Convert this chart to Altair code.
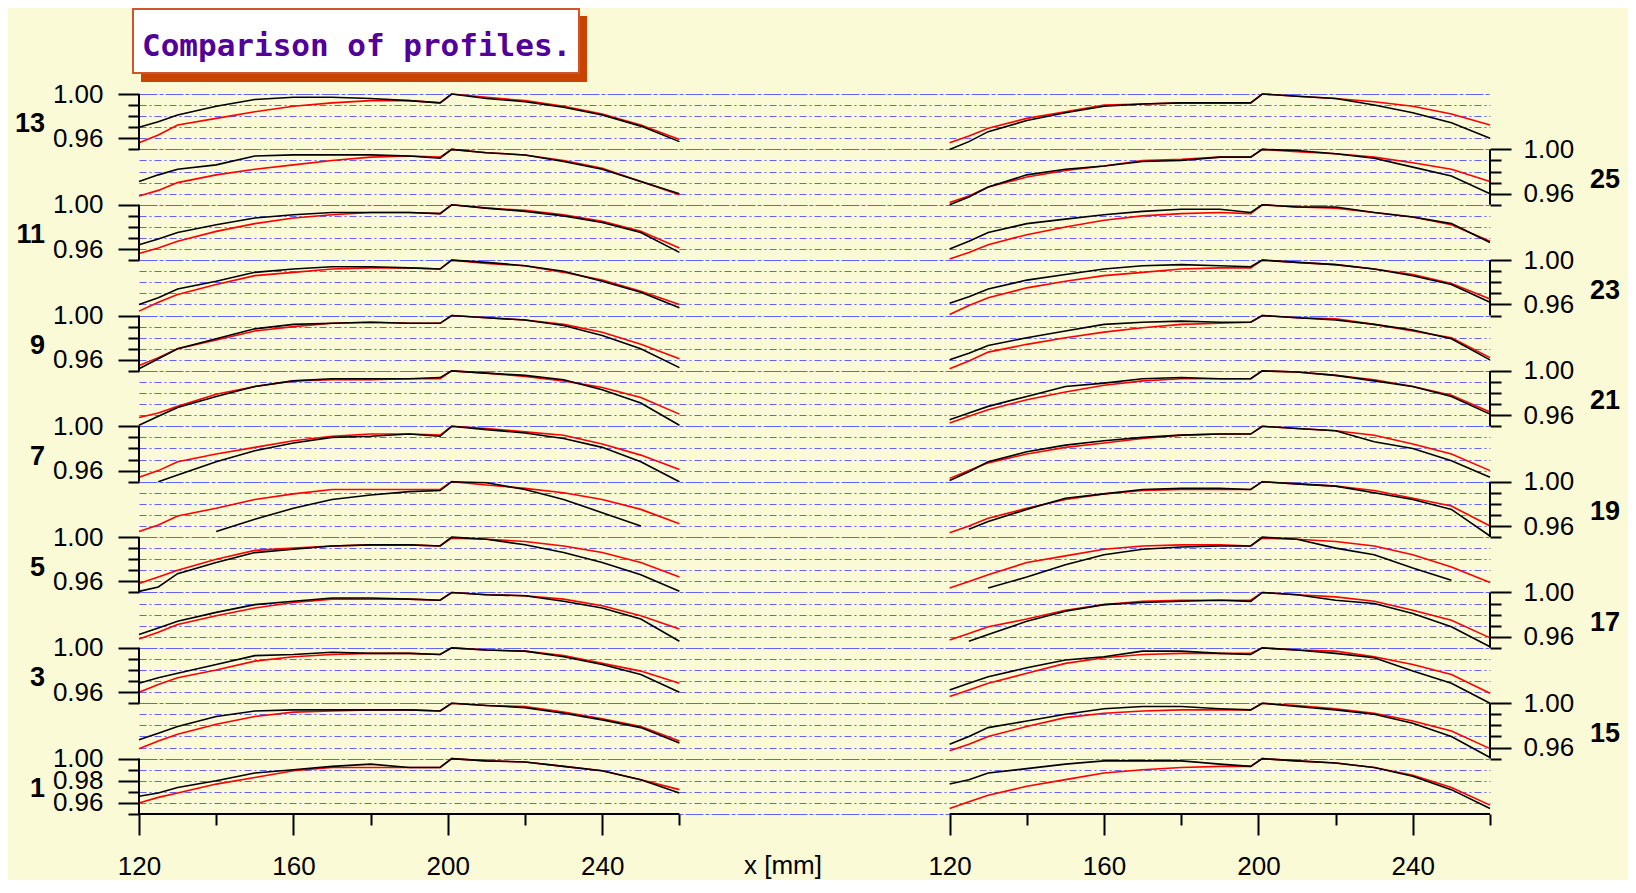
import altair as alt
import pandas as pd

# ---------------- data ----------------
GRID_X = [120, 125, 130, 140, 150, 160, 170, 180, 190, 198, 201, 210, 220, 230, 240, 250, 260]
RIGHT_SHIFT = 210          # x offset of the right-hand column (axis break)
LEVEL_STEP = 0.05          # vertical offset between stacked profiles
N = None

R01 = [0.960,0.965,0.969,0.977,0.983,0.989,0.992,0.992,0.992,0.992,1.000,0.998,0.997,0.993,0.989,0.981,0.972]
B01 = [0.966,0.969,0.974,0.980,0.987,0.990,0.993,0.995,0.992,0.992,1.000,0.998,0.997,0.993,0.989,0.981,0.969]
R02 = [0.959,0.966,0.972,0.981,0.988,0.992,0.993,0.994,0.994,0.993,1.000,0.998,0.997,0.992,0.986,0.979,0.966]
B02 = [0.967,0.973,0.979,0.988,0.993,0.994,0.994,0.994,0.994,0.993,1.000,0.998,0.996,0.991,0.985,0.978,0.964]
R03 = [0.960,0.967,0.973,0.980,0.988,0.992,0.994,0.995,0.995,0.994,1.000,0.998,0.997,0.993,0.986,0.979,0.968]
B03 = [0.968,0.973,0.977,0.985,0.993,0.994,0.996,0.995,0.995,0.994,1.000,0.998,0.997,0.992,0.985,0.976,0.960]
R04 = [0.958,0.964,0.971,0.979,0.986,0.991,0.994,0.994,0.994,0.993,1.000,0.998,0.997,0.994,0.988,0.979,0.967]
B04 = [0.962,0.968,0.974,0.982,0.989,0.992,0.995,0.995,0.994,0.993,1.000,0.998,0.997,0.992,0.986,0.976,0.956]
R05 = [0.958,0.964,0.970,0.980,0.988,0.990,0.992,0.993,0.993,0.992,0.999,0.998,0.996,0.992,0.986,0.977,0.964]
B05 = [0.951,0.955,0.967,0.977,0.986,0.989,0.992,0.993,0.993,0.992,1.000,0.998,0.993,0.986,0.977,0.966,0.951]
R06 = [0.955,0.961,0.969,0.976,0.984,0.989,0.993,0.993,0.993,0.993,1.000,0.997,0.994,0.990,0.984,0.975,0.962]
B06 = [N,N,N,0.955,0.966,0.976,0.984,0.988,0.991,0.992,1.000,0.999,0.993,0.984,0.972,0.960,N]
R07 = [0.954,0.960,0.968,0.975,0.981,0.987,0.991,0.993,0.993,0.992,1.000,0.998,0.995,0.992,0.984,0.974,0.961]
B07 = [N,0.950,0.956,0.968,0.978,0.985,0.990,0.991,0.993,0.991,1.000,0.997,0.994,0.989,0.981,0.968,0.950]
R08 = [0.958,0.962,0.968,0.979,0.986,0.991,0.992,0.992,0.993,0.993,1.000,0.998,0.995,0.991,0.985,0.976,0.961]
B08 = [0.951,0.959,0.967,0.977,0.986,0.991,0.993,0.993,0.993,0.994,1.000,0.998,0.996,0.992,0.983,0.971,0.951]
R09 = [0.955,0.962,0.970,0.978,0.986,0.990,0.993,0.994,0.993,0.993,1.000,0.998,0.996,0.992,0.985,0.974,0.961]
B09 = [0.952,0.961,0.970,0.979,0.988,0.992,0.993,0.994,0.993,0.993,1.000,0.998,0.996,0.991,0.982,0.970,0.953]
R10 = [0.954,0.962,0.969,0.978,0.986,0.989,0.992,0.993,0.993,0.992,1.000,0.997,0.995,0.989,0.982,0.972,0.960]
B10 = [0.960,0.966,0.974,0.981,0.989,0.992,0.994,0.994,0.993,0.992,1.000,0.998,0.995,0.990,0.981,0.971,0.957]
R11 = [0.956,0.961,0.967,0.976,0.983,0.988,0.991,0.993,0.993,0.992,1.000,0.997,0.995,0.991,0.985,0.976,0.961]
B11 = [0.964,0.969,0.975,0.982,0.988,0.991,0.993,0.993,0.993,0.992,1.000,0.997,0.994,0.990,0.984,0.975,0.957]
R12 = [0.958,0.963,0.970,0.977,0.982,0.986,0.990,0.993,0.994,0.993,1.000,0.997,0.995,0.990,0.983,0.971,0.959]
B12 = [0.971,0.977,0.982,0.986,0.994,0.995,0.995,0.995,0.994,0.992,1.000,0.997,0.995,0.989,0.982,0.971,0.960]
R13 = [0.956,0.963,0.972,0.978,0.984,0.989,0.992,0.994,0.994,0.992,1.000,0.997,0.994,0.989,0.982,0.972,0.959]
B13 = [0.970,0.975,0.981,0.989,0.995,0.997,0.997,0.996,0.994,0.992,1.000,0.996,0.993,0.988,0.981,0.971,0.957]
R14 = [0.955,0.961,0.967,0.975,0.981,0.987,0.990,0.992,0.993,0.993,1.000,0.998,0.996,0.992,0.985,0.974,0.958]
B14 = [0.977,0.981,0.987,0.991,0.995,0.998,0.998,0.998,0.995,0.993,1.000,0.998,0.996,0.992,0.984,0.972,0.955]
R15 = [0.957,0.963,0.970,0.979,0.987,0.991,0.993,0.994,0.994,0.994,1.000,0.998,0.995,0.991,0.984,0.975,0.959]
B15 = [0.963,0.970,0.978,0.984,0.990,0.995,0.997,0.997,0.995,0.994,1.000,0.997,0.994,0.990,0.982,0.970,0.951]
R16 = [0.956,0.962,0.968,0.977,0.986,0.991,0.994,0.995,0.995,0.995,1.000,0.998,0.997,0.992,0.985,0.976,0.959]
B16 = [0.962,0.968,0.974,0.982,0.989,0.992,0.997,0.997,0.995,0.994,1.000,0.998,0.995,0.991,0.979,0.968,0.950]
R17 = [0.957,0.963,0.969,0.976,0.984,0.989,0.992,0.993,0.993,0.993,1.000,0.998,0.996,0.992,0.984,0.975,0.959]
B17 = [N,0.956,0.962,0.974,0.983,0.989,0.991,0.992,0.993,0.992,1.000,0.998,0.993,0.990,0.981,0.969,0.951]
R18 = [0.954,0.960,0.966,0.977,0.983,0.989,0.992,0.993,0.993,0.992,0.999,0.998,0.996,0.992,0.984,0.973,0.959]
B18 = [N,N,0.954,0.964,0.975,0.984,0.989,0.991,0.992,0.992,1.000,0.998,0.990,0.984,0.972,0.961,N]
R19 = [0.954,0.960,0.967,0.976,0.984,0.989,0.992,0.993,0.993,0.993,1.000,0.998,0.996,0.992,0.985,0.978,0.960]
B19 = [N,0.957,0.964,0.975,0.985,0.989,0.993,0.994,0.994,0.993,1.000,0.998,0.996,0.990,0.984,0.975,0.951]
R20 = [0.953,0.960,0.967,0.975,0.981,0.985,0.989,0.992,0.993,0.993,1.000,0.998,0.996,0.992,0.984,0.975,0.960]
B20 = [0.951,0.959,0.968,0.977,0.983,0.987,0.990,0.992,0.993,0.993,1.000,0.998,0.996,0.986,0.980,0.969,0.954]
R21 = [0.953,0.959,0.965,0.974,0.981,0.987,0.991,0.993,0.993,0.993,1.000,0.999,0.996,0.992,0.986,0.978,0.963]
B21 = [0.956,0.962,0.968,0.977,0.986,0.989,0.993,0.994,0.993,0.993,1.000,0.999,0.996,0.991,0.986,0.977,0.961]
R22 = [0.952,0.959,0.967,0.974,0.980,0.985,0.989,0.992,0.993,0.994,1.000,0.998,0.997,0.992,0.986,0.980,0.962]
B22 = [0.960,0.966,0.973,0.980,0.986,0.992,0.994,0.995,0.994,0.994,1.000,0.998,0.996,0.992,0.987,0.979,0.960]
R23 = [0.951,0.959,0.966,0.975,0.981,0.986,0.989,0.992,0.993,0.993,1.000,0.998,0.996,0.992,0.987,0.979,0.965]
B23 = [0.961,0.967,0.974,0.982,0.987,0.992,0.995,0.996,0.995,0.994,1.000,0.998,0.996,0.992,0.986,0.978,0.962]
R24 = [0.951,0.957,0.964,0.973,0.980,0.986,0.990,0.992,0.993,0.992,1.000,0.998,0.997,0.993,0.989,0.982,0.967]
B24 = [0.960,0.967,0.975,0.983,0.987,0.991,0.994,0.996,0.996,0.993,1.000,0.998,0.998,0.993,0.989,0.983,0.966]
R25 = [0.952,0.958,0.966,0.975,0.981,0.985,0.990,0.991,0.993,0.993,1.000,0.998,0.996,0.993,0.988,0.982,0.971]
B25 = [0.950,0.957,0.966,0.977,0.982,0.985,0.989,0.990,0.993,0.993,1.000,0.999,0.996,0.992,0.984,0.976,0.960]
R26 = [0.956,0.962,0.969,0.978,0.984,0.990,0.991,0.992,0.992,0.992,1.000,0.998,0.996,0.993,0.989,0.982,0.972]
B26 = [0.950,0.957,0.966,0.976,0.983,0.989,0.991,0.992,0.992,0.992,1.000,0.998,0.996,0.990,0.983,0.974,0.960]

RED = [R01,R02,R03,R04,R05,R06,R07,R08,R09,R10,R11,R12,R13,R14,R15,R16,R17,R18,R19,R20,R21,R22,R23,R24,R25,R26]
BLACK = [B01,B02,B03,B04,B05,B06,B07,B08,B09,B10,B11,B12,B13,B14,B15,B16,B17,B18,B19,B20,B21,B22,B23,B24,B25,B26]

PROFILES = list(range(1, 27))
LEFT_LABELS = [1, 3, 5, 7, 9, 11, 13]
RIGHT_LABELS = [15, 17, 19, 21, 23, 25]
X_TICKS_MM = [120, 140, 160, 180, 200, 220, 240, 260]
LABEL_POS = 0.9725

# ---------------- build tables ----------------
def level_of(p):
    return p - 1 if p <= 13 else p - 14

def shift_of(p):
    return 0 if p <= 13 else RIGHT_SHIFT

def curve_rows(series_list):
    rows = []
    for p, vals in zip(PROFILES, series_list):
        for x, v in zip(GRID_X, vals):
            rows.append({"profile": p, "xc": x + shift_of(p),
                         "Y": (v + LEVEL_STEP * level_of(p)) if v is not None else None})
    return pd.DataFrame(rows)

red_df = curve_rows(RED)
black_df = curve_rows(BLACK)

xaxis_df = pd.DataFrame({"x1": [120, 120 + RIGHT_SHIFT], "x2": [260, 260 + RIGHT_SHIFT], "yb": [0.95, 0.95]})
yaxis_rows = []
for j in range(13):
    xa = 120 if j % 2 == 0 else 260 + RIGHT_SHIFT
    yaxis_rows.append({"xa": xa, "ya": 0.95 + LEVEL_STEP * j, "ya2": 1.00 + LEVEL_STEP * j})
yaxis_df = pd.DataFrame(yaxis_rows)

left_lab_df = pd.DataFrame({"lab": [str(p) for p in LEFT_LABELS],
                            "ly": [LABEL_POS + LEVEL_STEP * level_of(p) for p in LEFT_LABELS]})
right_lab_df = pd.DataFrame({"lab": [str(p) for p in RIGHT_LABELS],
                             "ly": [LABEL_POS + LEVEL_STEP * level_of(p) for p in RIGHT_LABELS]})

Y_TICKS = [round(0.95 + 0.01 * i, 2) for i in range(66)]
X_TICKS = X_TICKS_MM + [v + RIGHT_SHIFT for v in X_TICKS_MM]

# ---------------- styling ----------------
FONT = "Liberation Sans"
BG = "#FAFAD7"
GRID_BLUE = "#5a5aff"
W, H = 1351, 720

xscale = alt.Scale(domain=[120, 260 + RIGHT_SHIFT], nice=False, zero=False)
yscale = alt.Scale(domain=[0.95, 1.60], nice=False, zero=False)

XM = f"round(datum.value > 300 ? datum.value - {RIGHT_SHIFT} : datum.value)"
xaxis = alt.Axis(
    orient="bottom", values=X_TICKS, title=None, grid=False, domain=False,
    labelExpr=f"(({XM}) % 40 == 0) ? ('' + ({XM})) : ''",
    tickColor="black", tickWidth=2,
    tickSize={"condition": {"test": f"({XM}) % 40 == 0", "value": 21}, "value": 11},
    labelFont=FONT, labelFontSize=26, labelColor="black", labelPadding=18,
    labelOverlap=False, labelFlush=False,
)

NN = "round(datum.value*100)"
KK = f"floor(({NN}-95)/5)"
MM = f"(({NN}-95)%5)"
L100 = f"({MM}==0 && {KK}%2==1)"
L096 = f"({MM}==1 && {KK}%2==0)"
L098 = f"({NN}==98)"
LSHOW = f"({MM}==0 || {KK}%2==0)"
R100 = f"({MM}==0 && {KK}%2==0 && {NN}>95 && {NN}<160)"
R096 = f"({MM}==1 && {KK}%2==1)"
RSHOW = f"({MM}==0 ? ({NN}>95 && {NN}<160) : {KK}%2==1)"

left_axis = alt.Axis(
    orient="left", values=Y_TICKS, title=None, domain=False,
    grid=True, gridColor=GRID_BLUE, gridWidth=1, gridOpacity=0.95,
    gridDash={"condition": {"test": f"{MM}==0", "value": [18, 2, 4, 2]}, "value": [7, 3, 2, 3]},
    labelExpr=f"{L100} ? '1.00' : ({L096} ? '0.96' : ({L098} ? '0.98' : ''))",
    tickColor="black", tickWidth=2,
    tickSize={"condition": {"test": f"{L100} || {L096} || {L098}", "value": 21}, "value": 11},
    tickOpacity={"condition": {"test": LSHOW, "value": 1}, "value": 0},
    labelFont=FONT, labelFontSize=26, labelColor="black", labelPadding=15,
    labelOverlap=False, labelFlush=False,
)
right_axis = alt.Axis(
    orient="right", values=Y_TICKS, title=None, domain=False, grid=False,
    labelExpr=f"{R100} ? '1.00' : ({R096} ? '0.96' : '')",
    tickColor="black", tickWidth=2,
    tickSize={"condition": {"test": f"{R100} || {R096}", "value": 21}, "value": 11},
    tickOpacity={"condition": {"test": RSHOW, "value": 1}, "value": 0},
    labelFont=FONT, labelFontSize=26, labelColor="black", labelPadding=12,
    labelOverlap=False, labelFlush=False,
)

# ---------------- layers ----------------
red_layer = alt.Chart(red_df).mark_line(color="#ff0000", strokeWidth=1.6).encode(
    x=alt.X("xc:Q", scale=xscale, axis=xaxis),
    y=alt.Y("Y:Q", scale=yscale, axis=left_axis),
    detail="profile:N",
)
black_layer = alt.Chart(black_df).mark_line(color="#000000", strokeWidth=1.6).encode(
    x=alt.X("xc:Q", scale=xscale, axis=xaxis),
    y=alt.Y("Y:Q", scale=yscale, axis=right_axis),
    detail="profile:N",
)
xaxis_lines = alt.Chart(xaxis_df).mark_rule(color="black", strokeWidth=2).encode(
    x=alt.X("x1:Q", scale=xscale, axis=xaxis),
    x2="x2:Q",
    y=alt.Y("yb:Q", scale=yscale, axis=None),
)
yaxis_lines = alt.Chart(yaxis_df).mark_rule(color="black", strokeWidth=2).encode(
    x=alt.X("xa:Q", scale=xscale, axis=xaxis),
    y=alt.Y("ya:Q", scale=yscale, axis=None),
    y2="ya2:Q",
)
left_nums = alt.Chart(left_lab_df).mark_text(
    font=FONT, fontSize=27, fontWeight="bold", color="black", align="right", baseline="middle"
).encode(x=alt.value(-94), y=alt.Y("ly:Q", scale=yscale, axis=None), text="lab:N")
right_nums = alt.Chart(right_lab_df).mark_text(
    font=FONT, fontSize=27, fontWeight="bold", color="black", align="left", baseline="middle"
).encode(x=alt.value(W + 100), y=alt.Y("ly:Q", scale=yscale, axis=None), text="lab:N")

title_df = pd.DataFrame({"t": ["Comparison of profiles."]})
shadow = alt.Chart(title_df).mark_rect(color="#c84400").encode(
    x=alt.value(2), x2=alt.value(448), y=alt.value(-78), y2=alt.value(-12))
box = alt.Chart(title_df).mark_rect(fill="white", stroke="#d0552a", strokeWidth=2).encode(
    x=alt.value(-6), x2=alt.value(440), y=alt.value(-85), y2=alt.value(-21))
title_txt = alt.Chart(title_df).mark_text(
    font="DejaVu Sans Mono", fontSize=31, fontWeight="bold", color="#52009c",
    align="left", baseline="alphabetic"
).encode(x=alt.value(3), y=alt.value(-38), text="t:N")

xtitle_df = pd.DataFrame({"t": ["x [mm]"]})
xtitle = alt.Chart(xtitle_df).mark_text(
    font=FONT, fontSize=26, color="black", align="center", baseline="middle"
).encode(x=alt.value(644), y=alt.value(772), text="t:N")

chart = alt.layer(
    red_layer, black_layer, xaxis_lines, yaxis_lines, left_nums, right_nums,
    shadow, box, title_txt, xtitle
).resolve_axis(y="independent").properties(
    width=W, height=H, background=BG,
    padding={"left": 131, "top": 86, "right": 138, "bottom": 66},
    autosize=alt.AutoSizeParams(type="none"),
).configure_view(stroke=None)

chart.save("out.html", embed_options={"renderer": "svg", "actions": False})
